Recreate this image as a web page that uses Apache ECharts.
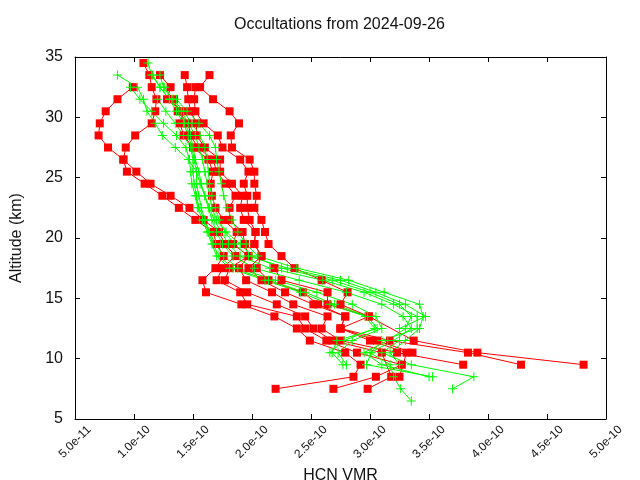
<!DOCTYPE html>
<html>
<head>
<meta charset="utf-8">
<script src="https://cdn.jsdelivr.net/npm/echarts@6/dist/echarts.min.js"></script>
<style>
html,body{margin:0;padding:0;background:#fff;}
#chart{width:640px;height:480px;}
</style>
</head>
<body>
<div id="chart"></div>
<script>
// Altitude grid (km), top to bottom
const ALT = [34.5,33.5,32.5,31.5,30.5,29.5,28.5,27.5,26.5,25.5,24.5,23.5,22.5,21.5,20.5,19.5,18.5,17.5,16.5,15.5,14.5,13.5,12.5,11.5,10.5,9.5,8.5,7.5,6.5];
// HCN VMR values in units of 1e-10, aligned with ALT (null = no point)
const redA = [null,null,0.99,0.86,0.76,0.71,0.70,0.78,0.91,0.94,1.09,1.24,1.38,1.52,1.67,1.70,1.76,1.69,1.58,1.61,1.91,2.19,2.38,2.49,2.79,2.92,2.86,2.20];
const redB = [1.08,1.13,1.15,1.19,1.18,1.15,1.01,0.93,0.91,1.02,1.14,1.31,1.47,1.59,1.72,1.77,1.86,1.75,1.70,1.90,1.96,2.38,2.45,2.63,2.89,3.27,3.05,2.69];
const redC = [null,1.22,1.31,1.28,1.42,1.39,1.42,1.50,1.63,1.67,1.65,1.66,1.69,1.76,1.87,1.84,1.97,1.81,1.77,1.96,2.21,2.45,2.52,2.68,3.10,null,3.18,2.98];
const redD = [null,1.43,1.45,1.46,1.48,1.53,1.53,1.60,1.73,1.73,1.83,1.92,1.90,1.93,2.03,2.02,2.08,1.97,2.08,2.28,2.52,2.79,2.75,3.00,3.31,null,3.25];
const redE = [null,null,1.52,1.51,1.52,1.59,1.71,1.75,1.90,1.97,1.93,1.96,1.96,1.98,2.03,2.02,2.08,2.04,2.14,2.43,2.56,2.79,2.75,3.06,3.36];
const redF = [null,1.64,1.56,1.67,1.81,1.89,1.82,1.83,1.98,2.02,2.02,2.04,2.02,2.08,2.11,2.14,2.25,2.36,2.59,2.81,2.75,2.99,null,3.37,3.91,4.81];
const redG = [null,null,null,1.34,1.37,1.46,1.48,1.54,1.67,1.70,1.78,1.86,1.81,1.81,1.92,1.94,1.97,1.89,1.95,2.17,2.35,2.64,2.59,2.75,3.23,3.79];
const redH = [null,null,null,null,null,null,null,null,null,null,null,null,null,null,null,null,null,2.19,2.25,2.64,2.64,2.99,2.75,3.17,3.83,4.28];

const green1 = [null,0.86,1.03,1.08,1.11,1.18,1.24,1.35,1.46,1.53,1.53,1.55,1.57,1.60,1.63,1.67,1.72,1.84,2.14,2.45,2.70,2.98,3.06,2.72,2.68,2.77];
const green2 = [1.12,1.15,1.22,1.30,1.38,1.43,1.48,1.50,1.52,1.55,1.57,1.60,1.63,1.66,1.70,1.75,1.84,2.02,2.40,2.80,3.10,3.28,3.35,3.20,3.00,3.17,3.20,3.26,3.35];
const green3 = [null,1.16,1.22,1.30,1.36,1.42,1.46,1.49,1.51,1.53,1.56,1.60,1.64,1.68,1.74,1.80,1.90,2.15,2.60,2.95,3.20,3.40,3.40,3.10,3.01,2.97,3.53];
const green4 = [null,null,1.26,1.33,1.42,1.49,1.56,1.60,1.62,1.63,1.64,1.66,1.69,1.72,1.77,1.85,1.97,2.30,2.75,3.05,3.30,3.47,3.25,3.25,3.10,3.35,3.88,3.70];
const green5 = [null,null,null,1.20,1.27,1.35,1.42,1.48,1.50,1.50,1.51,1.53,1.55,1.60,1.64,1.69,1.76,1.88,2.20,2.55,2.85,3.05,3.10,2.85,2.73,2.80];
const green6 = [null,null,0.97,1.05,1.15,1.25,1.36,1.44,1.47,1.48,1.49,1.52,1.54,1.58,1.62,1.66,1.70,1.81,2.11,2.41,2.66,2.96,3.04,2.78,2.66];
const green7 = [null,null,null,1.36,1.45,1.55,1.64,1.69,1.70,1.72,1.74,1.76,1.79,1.83,1.88,1.95,2.05,2.38,2.82,3.12,3.42,3.45,3.42,3.30,3.17,3.25];
const green8 = [null,1.22,1.25,1.32,1.40,1.46,1.52,1.55,1.58,1.60,1.62,1.64,1.66,1.70,1.78,1.90,2.00,2.25,2.68,3.00,3.25,3.35,3.30,3.15,2.95,3.10,3.50];

const redProfiles = [redA, redB, redC, redD, redE, redF, redG, redH];
const greenProfiles = [green1, green2, green3, green4, green5, green6, green7, green8];

function toData(xs){
  const out = [];
  xs.forEach((v,i)=>{ if(v!==null && v!==undefined) out.push([v, ALT[i]]); });
  return out;
}
const PLUS = 'path://M4,0h1v4h4v1h-4v4h-1v-4h-4v-1h4z';
const series = [];
redProfiles.forEach(p=>series.push({
  type:'line', data:toData(p), symbol:'rect', symbolSize:8,
  itemStyle:{color:'#ff0000'}, lineStyle:{color:'#ff0000', width:1}
}));
greenProfiles.forEach(p=>series.push({
  type:'line', data:toData(p), symbol:PLUS, symbolSize:9,
  itemStyle:{color:'#00ff00'}, lineStyle:{color:'#00ff00', width:1}
}));

const txt = '#111';
const chart = echarts.init(document.getElementById('chart'), null, {renderer:'canvas'});
chart.setOption({
  animation:false,
  backgroundColor:'#fff',
  title:{text:'Occultations from 2024-09-26', left:229, top:12,
    textStyle:{fontFamily:'Liberation Sans', fontSize:16, fontWeight:'normal', color:txt}},
  grid:{left:75, right:34, top:57, bottom:61, containLabel:false, outerBoundsMode:'none'},
  xAxis:[{
    type:'value', min:0.5, max:5, interval:0.5, position:'bottom',
    name:'HCN VMR', nameLocation:'middle', nameGap:40,
    nameTextStyle:{fontFamily:'Liberation Sans', fontSize:16, color:txt},
    axisLine:{show:true, onZero:false, lineStyle:{color:'#000', width:1}},
    axisTick:{show:true, inside:true, length:5, lineStyle:{color:'#000'}},
    axisLabel:{rotate:45, align:'center', verticalAlign:'middle', margin:23,
      fontFamily:'Liberation Sans', fontSize:12, color:txt,
      formatter:v=>(v*1e-10).toExponential(1)},
    splitLine:{show:false}
  },{
    type:'value', min:0.5, max:5, interval:0.5, position:'top',
    axisLine:{show:true, onZero:false, lineStyle:{color:'#000', width:1}},
    axisTick:{show:true, inside:true, length:5, lineStyle:{color:'#000'}},
    axisLabel:{show:false}, splitLine:{show:false}
  }],
  yAxis:[{
    type:'value', min:5, max:35, interval:5, position:'left',
    name:'Altitude (km)', nameLocation:'middle', nameGap:50, nameRotate:90,
    nameTextStyle:{fontFamily:'Liberation Sans', fontSize:16, color:txt},
    axisLine:{show:true, onZero:false, lineStyle:{color:'#000', width:1}},
    axisTick:{show:true, inside:true, length:5, lineStyle:{color:'#000'}},
    axisLabel:{fontFamily:'Liberation Sans', fontSize:16, color:txt, margin:12},
    splitLine:{show:false}
  },{
    type:'value', min:5, max:35, interval:5, position:'right',
    axisLine:{show:true, onZero:false, lineStyle:{color:'#000', width:1}},
    axisTick:{show:true, inside:true, length:5, lineStyle:{color:'#000'}},
    axisLabel:{show:false}, splitLine:{show:false}
  }],
  series:series
});
</script>
</body>
</html>
